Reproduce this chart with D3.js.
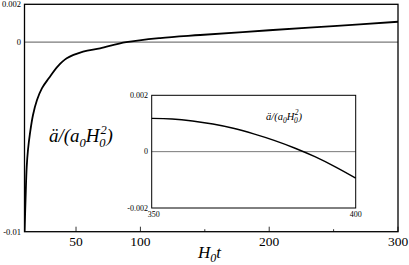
<!DOCTYPE html>
<html><head><meta charset="utf-8">
<script src="https://cdn.jsdelivr.net/npm/d3@7"></script>
<style>body{margin:0;background:#fff}svg{display:block}</style>
</head><body>
<svg id="c" width="409" height="265"></svg>
<script>
const mainT = [10.08, 10.8, 11.7, 12.7, 14.3, 16.6, 19.7, 23.6, 29.0, 36.0, 42.8, 55.5, 68.7, 88.9, 115.3, 146.4, 200, 249.7, 300];
const mainV = [-0.00996, -0.00833, -0.00659, -0.00569, -0.00479, -0.00384, -0.00305, -0.00242, -0.00189, -0.00126, -0.00085, -0.0005, -0.00032, 0, 0.00022, 0.00038, 0.00063, 0.00085, 0.00108];
const mainXTicks = [50, 100, 200, 300];
const mainXMinor = [150, 250];
const mainYLabels = ["0.002", "0", "-0.01"];
const mainYVals = [0.002, 0, -0.01];
const insetT = [350, 355, 360, 365, 370, 375, 380, 385, 390, 395, 400];
const insetV = [0.00118, 0.00116, 0.00109, 0.00098, 0.00083, 0.00063, 0.00040, 0.00013, -0.00018, -0.00054, -0.00094];
const insetYLabels = ["0.002", "0", "-0.002"];
const insetYVals = [0.002, 0, -0.002];
const insetXLabels = ["350", "400"];
const insetXVals = [350, 400];

const FONT = "Liberation Serif";
const svg = d3.select("#c");
const x = d3.scaleLinear().domain([10, 300]).range([24.5, 398]);
const y = d3.scaleLinear().domain([-0.01, 0.002]).range([231.7, 4.3]);

const gMain = svg.append("g");
gMain.append("defs").append("clipPath").attr("id","cm").append("rect")
  .attr("x", x(10)).attr("y", y(0.002)).attr("width", x(300)-x(10)).attr("height", y(-0.01)-y(0.002));
gMain.append("line").attr("x1", x(10)).attr("x2", x(300)).attr("y1", y(0)).attr("y2", y(0))
  .attr("stroke", "#7a7a7a").attr("stroke-width", 1.2);
const line = d3.line().x((d,i)=>x(mainT[i])).y((d,i)=>y(mainV[i])).curve(d3.curveCatmullRom.alpha(0.5));
gMain.append("path").attr("d", line(mainT)).attr("fill","none").attr("stroke","#000")
  .attr("stroke-width",1.8).attr("clip-path","url(#cm)");
gMain.append("rect").attr("x", x(10)).attr("y", y(0.002)).attr("width", x(300)-x(10)).attr("height", y(-0.01)-y(0.002))
  .attr("fill","none").attr("stroke","#000").attr("stroke-width",1.3);
gMain.selectAll(".mt").data(mainXTicks).enter().append("line")
  .attr("x1", d=>x(d)).attr("x2", d=>x(d)).attr("y1", y(-0.01)).attr("y2", y(-0.01)-5)
  .attr("stroke","#000").attr("stroke-width",0.8);
gMain.selectAll(".mn").data(mainXMinor).enter().append("line")
  .attr("x1", d=>x(d)).attr("x2", d=>x(d)).attr("y1", y(-0.01)).attr("y2", y(-0.01)-2.5)
  .attr("stroke","#000").attr("stroke-width",0.8);
gMain.selectAll(".ml").data(mainXTicks).enter().append("text")
  .attr("x", d=>x(d)).attr("y", 245.5).attr("text-anchor","middle").attr("font-size",13.5)
  .style("font-family", FONT).text(d=>d);
gMain.selectAll(".yl").data(mainYVals).enter().append("text")
  .attr("x", 21).attr("y", d=>y(d)+3).attr("text-anchor","end").attr("font-size",8.5)
  .style("font-family", FONT).text((d,i)=>mainYLabels[i]);

const yt = svg.append("text").attr("x", 49).attr("y", 142).attr("font-size", 19).attr("font-style","italic").style("font-family", FONT);
yt.append("tspan").text("ä/(a");
yt.append("tspan").attr("font-size",12.5).attr("dy",5).text("0");
yt.append("tspan").attr("dy",-5).text("H");
yt.append("tspan").attr("font-size",12.5).attr("dy",-8).attr("dx",1).text("2");
yt.append("tspan").attr("font-size",12.5).attr("dy",13).attr("dx",-7.5).text("0");
yt.append("tspan").attr("dy",-5).attr("dx",1).text(")");

const xt = svg.append("text").attr("x", 198).attr("y", 258).attr("font-size", 17).attr("font-style","italic").style("font-family", FONT);
xt.append("tspan").text("H");
xt.append("tspan").attr("font-size",12).attr("dy",3.5).text("0");
xt.append("tspan").attr("dy",-3.5).text("t");

const ix = d3.scaleLinear().domain([350, 400]).range([151.7, 355.7]);
const iy = d3.scaleLinear().domain([-0.002, 0.002]).range([208, 95.3]);
const gI = svg.append("g");
gI.append("rect").attr("x", ix(350)).attr("y", iy(0.002)).attr("width", ix(400)-ix(350)).attr("height", iy(-0.002)-iy(0.002))
  .attr("fill","#fff").attr("stroke","none");
gI.append("line").attr("x1", ix(350)).attr("x2", ix(400)).attr("y1", iy(0)).attr("y2", iy(0))
  .attr("stroke","#7a7a7a").attr("stroke-width",1);
const iline = d3.line().x((d,i)=>ix(insetT[i])).y((d,i)=>iy(insetV[i])).curve(d3.curveCatmullRom.alpha(0.5));
gI.append("path").attr("d", iline(insetT)).attr("fill","none").attr("stroke","#000").attr("stroke-width",1.4);
gI.append("rect").attr("x", ix(350)).attr("y", iy(0.002)).attr("width", ix(400)-ix(350)).attr("height", iy(-0.002)-iy(0.002))
  .attr("fill","none").attr("stroke","#000").attr("stroke-width",1);
gI.selectAll(".iyl").data(insetYVals).enter().append("text")
  .attr("x", 148).attr("y", d=>iy(d)+2.5).attr("text-anchor","end").attr("font-size",8)
  .style("font-family", FONT).text((d,i)=>insetYLabels[i]);
gI.selectAll(".ixl").data(insetXVals).enter().append("text")
  .attr("x", d=>ix(d)+ (d===350?-4:0)).attr("y", 217).attr("text-anchor", d=>d===350?"start":"middle").attr("font-size",8)
  .style("font-family", FONT).text((d,i)=>insetXLabels[i]);
const il = gI.append("text").attr("x", 266).attr("y", 120).attr("font-size", 10.5).attr("font-style","italic").style("font-family", FONT);
il.append("tspan").text("ä/(a");
il.append("tspan").attr("font-size",7.5).attr("dy",3).text("0");
il.append("tspan").attr("dy",-3).text("H");
il.append("tspan").attr("font-size",7.5).attr("dy",-5).attr("dx",0.6).text("2");
il.append("tspan").attr("font-size",7.5).attr("dy",8).attr("dx",-4.5).text("0");
il.append("tspan").attr("dy",-3).attr("dx",0.6).text(")");
</script>
</body></html>
